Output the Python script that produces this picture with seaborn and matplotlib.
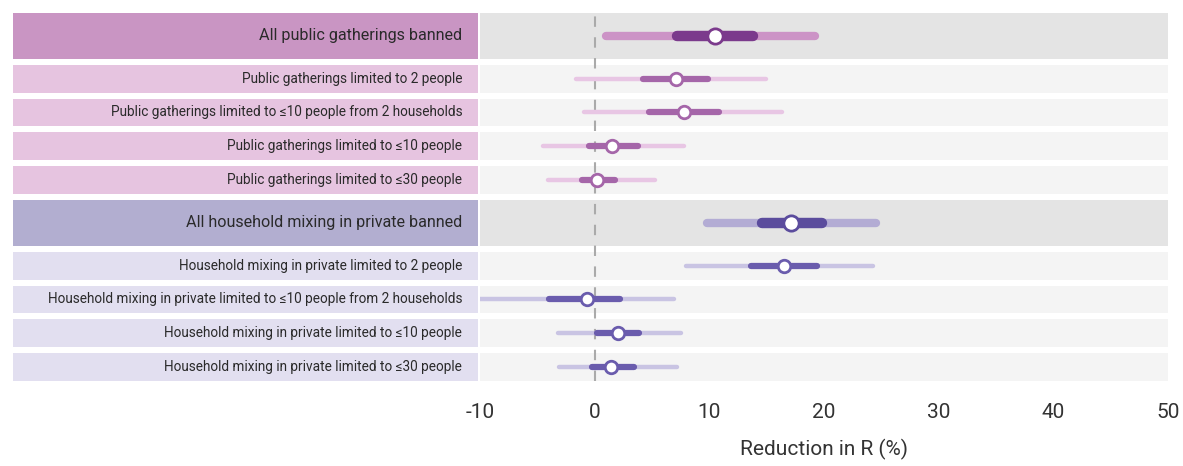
import numpy as np
import pandas as pd
import matplotlib.pyplot as plt
import seaborn as sns

sns.set_theme(style="white")
plt.rcParams['font.family'] = ['Roboto', 'DejaVu Sans']

labels = [
    "All public gatherings banned",
    "Public gatherings limited to 2 people",
    "Public gatherings limited to \u226410 people from 2 households",
    "Public gatherings limited to \u226410 people",
    "Public gatherings limited to \u226430 people",
    "All household mixing in private banned",
    "Household mixing in private limited to 2 people",
    "Household mixing in private limited to \u226410 people from 2 households",
    "Household mixing in private limited to \u226410 people",
    "Household mixing in private limited to \u226430 people",
]
group = ["public"] * 5 + ["private"] * 5
is_header = [True, False, False, False, False, True, False, False, False, False]

median = [10.5, 7.1, 7.8, 1.5, 0.2, 17.1, 16.5, -0.7, 2.0, 1.4]
inner_lo = [7.2, 4.2, 4.7, -0.5, -1.1, 14.6, 13.6, -4.0, 0.2, -0.2]
inner_hi = [13.8, 9.9, 10.8, 3.8, 1.8, 19.8, 19.4, 2.2, 3.9, 3.4]
outer_lo = [1.0, -1.6, -0.9, -4.5, -4.1, 9.8, 8.0, -11.0, -3.2, -3.1]
outer_hi = [19.2, 14.9, 16.3, 7.8, 5.3, 24.5, 24.3, 6.9, 7.5, 7.2]

xticks = [-10, 0, 10, 20, 30, 40, 50]

# per-group colours: label bg (header/row), line colours (header outer/inner, row outer/inner)
styles = {
    "public": dict(hbg="#c995c3", bg="#e6c4e0", ho="#cc93c6", hi="#7b3a8c", ro="#e8c6e4", ri="#a566a9"),
    "private": dict(hbg="#b2aed0", bg="#e2dff0", ho="#b3acd4", hi="#5b4c9d", ro="#c9c4e3", ri="#6a5cad"),
}

df = pd.DataFrame({"label": labels, "group": group, "header": is_header, "median": median,
                   "inner_lo": inner_lo, "inner_hi": inner_hi,
                   "outer_lo": outer_lo, "outer_hi": outer_hi})

# row layout (vertical units ~ pixels)
heights = np.where(df["header"], 46, 28)
gap = 6
tops = np.concatenate([[0], np.cumsum(heights + gap)[:-1]])
df["y"] = tops + heights / 2
df["h"] = heights

fig = plt.figure(figsize=(11.83, 4.66), dpi=100)
ax_lab = fig.add_axes([13 / 1183, 1 - 381 / 466, 465 / 1183, 368 / 466])
ax = fig.add_axes([480 / 1183, 1 - 381 / 466, 688 / 1183, 368 / 466], sharey=ax_lab)

texts = []
for _, r in df.iterrows():
    st = styles[r["group"]]
    y0, y1 = r["y"] - r["h"] / 2, r["y"] + r["h"] / 2
    ax_lab.axhspan(y0, y1, color=st["hbg"] if r["header"] else st["bg"], lw=0)
    ax.axhspan(y0, y1, color="#e4e4e4" if r["header"] else "#f4f4f4", lw=0)
    t = ax_lab.text(0.966, r["y"], r["label"], ha="right", va="center",
                    fontsize=12, color="#2a2a2a",
                    transform=ax_lab.get_yaxis_transform())
    texts.append(t)
    if r["header"]:
        ow, iw, ms, oc, ic = 6.0, 7.5, 11, st["ho"], st["hi"]
    else:
        ow, iw, ms, oc, ic = 3.2, 4.5, 9, st["ro"], st["ri"]
    ax.hlines(r["y"], r["outer_lo"], r["outer_hi"], color=oc, lw=ow, capstyle="round", zorder=3)
    ax.hlines(r["y"], r["inner_lo"], r["inner_hi"], color=ic, lw=iw, capstyle="round", zorder=4)
    ax.plot(r["median"], r["y"], "o", ms=ms, mfc="white", mec=ic, mew=2, zorder=5)

# shrink row labels so the longest fits the label column like the reference
renderer = fig.canvas.get_renderer()
widest = max(t.get_window_extent(renderer).width for t, h in zip(texts, is_header) if not h)
size = 12 * 415 / widest
for t, h in zip(texts, is_header):
    t.set_fontsize(size * 1.18 if h else size)

ax.axvline(0, color="#aaaaaa", lw=1.5, ls=(0, (5, 5)), zorder=2)

ax.set_xlim(-10, 50)
ax.set_ylim(tops[-1] + heights[-1], 0)
ax.set_xticks(xticks)
ax.set_xticklabels([str(t) for t in xticks], fontsize=15, color="#333333")
ax.tick_params(axis="x", length=0, pad=16)
ax.tick_params(axis="y", left=False, labelleft=False)
ax.set_xlabel("Reduction in R (%)", fontsize=15, color="#333333", labelpad=12)
ax_lab.set_xlim(0, 1)
ax_lab.set_xticks([])
ax_lab.tick_params(axis="y", left=False, labelleft=False)
for a in (ax, ax_lab):
    for s in a.spines.values():
        s.set_visible(False)
    a.set_facecolor("none")

fig.savefig("out.png", dpi=100)
